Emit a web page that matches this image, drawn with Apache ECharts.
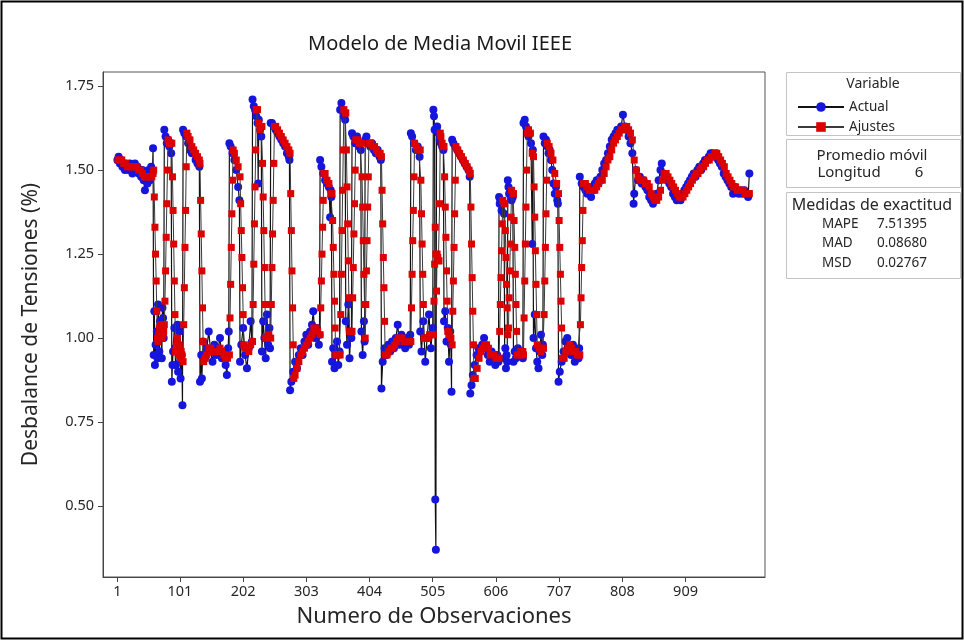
<!DOCTYPE html>
<html>
<head>
<meta charset="utf-8">
<script src="https://cdn.jsdelivr.net/npm/echarts@6/dist/echarts.min.js"></script>
<style>
  html, body { margin: 0; padding: 0; background: #fff; }
  #chart { width: 964px; height: 641px; }
</style>
</head>
<body>
<div id="chart"></div>
<script>
// Observation number and measured voltage unbalance (%)
const actual = [
  [1,1.53],[3,1.54],[5,1.52],[7,1.53],[9,1.51],[11,1.52],[13,1.50],[15,1.52],[17,1.51],[19,1.50],[21,1.52],[23,1.51],[25,1.49],[27,1.51],[29,1.52],[31,1.50],[33,1.51],[35,1.49],[37,1.50],[39,1.48],[41,1.50],[43,1.47],[45,1.44],[47,1.49],[49,1.46],[51,1.50],[53,1.47],[55,1.51],[57,1.49],[58,1.565],
  [59,0.95],[60,1.08],[61,0.92],[62,0.98],[64,1.02],[65,0.94],[66,1.10],[68,0.96],[69,1.05],[70,1.04],[72,0.94],[73,1.09],[74,1.06],[75,1.00],
  [76,1.62],[78,1.60],[80,1.58],[82,1.59],[84,1.57],[86,1.58],[87,1.55],
  [88,0.87],[89,0.92],[90,0.96],[92,1.03],[93,0.97],[94,0.92],[96,0.99],[97,1.04],[98,0.90],[100,1.02],[101,0.93],[102,0.88],[104,0.95],[105,0.80],
  [106,1.62],[108,1.61],[111,1.60],[114,1.58],[117,1.56],[120,1.55],[123,1.55],[126,1.53],[129,1.52],[132,1.51],
  [133,0.87],[135,0.95],[136,0.88],[138,0.99],[141,0.94],[144,0.97],[147,1.02],[150,0.96],[153,0.93],[156,0.98],[159,0.95],[162,0.97],[165,1.00],[168,0.94],[171,0.96],[174,0.92],[176,0.89],[178,0.97],[179,1.02],
  [180,1.58],[182,1.57],[185,1.55],[188,1.53],[191,1.50],[194,1.45],[196,1.41],
  [197,0.93],[199,0.98],[202,1.03],[205,0.95],[208,0.91],[211,0.97],[214,1.05],[216,0.99],
  [217,1.71],[219,1.69],[221,1.68],[223,1.66],[225,1.64],[226,1.46],[227,1.65],[229,1.62],[231,1.60],
  [232,0.96],[234,1.05],[236,1.00],[238,0.94],[240,1.07],[242,0.98],[244,1.03],[245,0.97],
  [246,1.64],[248,1.64],[251,1.63],[254,1.62],[257,1.61],[260,1.60],[263,1.59],[266,1.58],[269,1.57],[272,1.55],[275,1.54],[276,1.53],
  [277,0.845],[279,0.87],[282,0.90],[285,0.93],[288,0.91],[291,0.95],[294,0.97],[297,0.95],[300,0.99],[303,1.01],[306,0.98],[309,1.02],[312,1.04],[314,1.08],[317,1.00],[320,1.03],[323,0.98],[324,1.01],
  [325,1.53],[327,1.51],[330,1.49],[333,1.47],[336,1.46],[339,1.45],[341,1.36],[342,1.44],[343,1.42],
  [344,0.93],[346,0.97],[348,0.91],[350,0.95],[352,0.99],[354,0.92],[356,0.96],
  [357,1.68],[359,1.70],[361,1.68],[363,1.66],[365,1.65],
  [366,1.05],[368,0.98],[370,1.10],[372,0.94],[374,1.02],[375,1.00],
  [376,1.61],[378,1.60],[381,1.58],[384,1.60],[387,1.57],[390,1.56],
  [391,1.02],[393,0.95],[395,1.05],[396,0.99],
  [397,1.59],[399,1.60],[402,1.58],[405,1.57],[408,1.58],[411,1.56],[414,1.55],[417,1.56],[420,1.54],[422,1.53],
  [423,0.85],[425,0.93],[428,0.97],[431,0.95],[434,0.98],[437,0.96],[440,0.99],[443,0.97],[446,1.00],[449,1.04],[452,0.98],[455,1.01],[458,0.99],[461,0.97],[464,1.00],[467,0.98],[469,1.01],
  [470,1.61],[472,1.60],[475,1.58],[478,1.56],[481,1.57],[484,1.54],
  [485,1.02],[487,0.96],[490,1.05],[493,0.93],[496,1.00],[499,1.07],[502,0.97],[505,1.03],
  [506,1.68],[507,1.66],[508,1.62],[509,0.52],[510,0.37],[511,1.62],[512,1.63],[514,1.61],[516,1.59],[518,1.58],[520,1.57],[522,1.56],
  [523,1.05],[525,1.08],[527,0.99],[529,1.03],[531,0.93],[533,1.02],[534,0.98],[535,0.84],
  [536,1.59],[538,1.58],[541,1.57],[544,1.56],[547,1.55],[550,1.54],[553,1.53],[556,1.52],[559,1.51],[562,1.50],[564,1.48],
  [565,0.835],[567,0.86],[569,0.89],[572,0.92],[575,0.95],[578,0.97],[581,0.96],[584,0.98],[587,1.00],[590,0.97],[593,0.95],[596,0.93],[599,0.96],[602,0.94],[605,0.92],[608,0.95],[610,0.93],
  [611,1.42],[612,1.40],[613,1.41],[615,1.38],[617,1.40],[619,1.37],
  [620,0.94],[621,0.97],[622,0.91],[623,0.95],[624,0.93],
  [625,1.47],[626,1.45],[627,1.43],[629,1.44],[631,1.41],[633,1.42],
  [634,0.93],[636,0.96],[638,0.94],[641,0.97],[644,0.95],[647,0.96],[649,0.94],
  [650,1.64],[652,1.65],[654,1.63],[656,1.62],[658,1.60],[660,1.61],[662,1.58],[664,1.28],[665,1.56],
  [666,1.00],[668,1.07],[670,0.97],[672,0.93],[674,0.91],[676,0.96],[678,1.01],[680,0.95],[681,0.98],
  [682,1.60],[684,1.58],[686,1.59],[688,1.57],[690,1.55],[692,1.56],[694,1.53],[696,1.50],[698,1.46],[700,1.43],[702,1.45],[704,1.41],[705,1.40],
  [706,0.87],[708,0.90],[711,0.93],[714,0.96],[717,0.99],[720,1.00],[723,0.97],[726,0.95],[729,0.98],[732,0.93],[735,0.96],[738,0.94],[739,0.97],
  [740,1.48],[743,1.46],[746,1.45],[749,1.44],[752,1.43],[755,1.45],[758,1.42],[761,1.44],[764,1.46],[767,1.47],[770,1.46],[773,1.48],[776,1.50],[779,1.52],[782,1.53],[785,1.55],[788,1.57],[791,1.59],[794,1.60],[797,1.61],[800,1.62],[803,1.62],[806,1.63],[809,1.665],[812,1.63],[815,1.62],[818,1.60],[821,1.58],[824,1.55],[826,1.40],[827,1.43],[830,1.50],[833,1.47],[836,1.48],[839,1.46],[842,1.47],[845,1.45],[848,1.44],[851,1.42],[854,1.41],[857,1.40],[860,1.41],[863,1.43],[866,1.47],[869,1.50],[871,1.52],[874,1.49],[877,1.48],[880,1.47],[883,1.46],[886,1.45],[889,1.43],[892,1.42],[895,1.41],[898,1.42],[901,1.41],[904,1.43],[907,1.44],[910,1.45],[913,1.46],[916,1.47],[919,1.48],[922,1.49],[925,1.48],[928,1.50],[931,1.51],[934,1.50],[937,1.52],[940,1.53],[943,1.53],[946,1.54],[949,1.55],[952,1.55],[955,1.54],[958,1.55],[961,1.53],[964,1.52],[967,1.51],[970,1.49],[973,1.48],[976,1.47],[979,1.46],[982,1.45],[985,1.43],[988,1.45],[991,1.44],[994,1.43],[997,1.44],[1000,1.43],[1003,1.44],[1006,1.43],[1009,1.42],[1011,1.49]
];

// Fitted values of the length-6 moving average
const fits = [
  [2,1.53],[5,1.53],[8,1.53],[11,1.52],[14,1.52],[17,1.51],[20,1.51],[23,1.51],[26,1.51],[29,1.51],[32,1.51],[35,1.50],[38,1.50],[41,1.49],[44,1.48],[47,1.48],[50,1.48],[53,1.48],[56,1.48],[58,1.49],[59,1.50],
  [60,1.42],[61,1.33],[62,1.25],[63,1.17],[64,1.08],[65,1.00],[66,0.99],[67,1.01],[68,1.03],[69,1.02],[70,1.04],[71,1.01],[72,1.00],[73,1.03],[74,1.01],[75,1.02],[76,1.04],
  [77,1.11],[78,1.20],[79,1.30],[80,1.40],[81,1.50],[82,1.59],[84,1.58],[86,1.58],[88,1.58],
  [89,1.48],[90,1.38],[91,1.28],[92,1.17],[93,1.07],[94,0.96],[95,0.98],[96,0.96],[97,1.00],[98,0.97],[99,0.95],[100,0.98],[101,0.96],[102,0.94],[103,0.96],[104,0.95],[106,0.93],
  [107,1.04],[108,1.15],[109,1.27],[110,1.38],[111,1.51],[112,1.61],[114,1.60],[117,1.59],[120,1.57],[123,1.56],[126,1.55],[129,1.54],[132,1.53],[133,1.52],
  [134,1.41],[135,1.31],[136,1.20],[137,1.09],[138,0.99],[139,0.93],[141,0.94],[144,0.95],[147,0.97],[150,0.97],[153,0.96],[156,0.96],[159,0.96],[162,0.96],[165,0.97],[168,0.96],[171,0.95],[174,0.94],[177,0.94],[180,0.95],
  [181,1.06],[182,1.16],[183,1.27],[184,1.37],[185,1.47],[186,1.56],[188,1.55],[191,1.53],[194,1.51],[197,1.48],
  [198,1.40],[199,1.32],[200,1.24],[201,1.15],[202,1.07],[203,0.98],[205,0.97],[208,0.97],[211,0.96],[214,0.98],[217,0.99],
  [218,1.10],[219,1.22],[220,1.34],[221,1.45],[222,1.56],[223,1.68],[225,1.68],[227,1.64],[229,1.62],[231,1.63],[232,1.63],
  [233,1.52],[234,1.42],[235,1.32],[236,1.21],[237,1.10],[238,1.00],[240,1.00],[243,1.01],[246,1.00],
  [247,1.10],[248,1.21],[249,1.31],[250,1.41],[251,1.52],[252,1.63],[254,1.63],[257,1.62],[260,1.61],[263,1.60],[266,1.59],[269,1.58],[272,1.57],[275,1.56],[277,1.55],
  [278,1.43],[279,1.32],[280,1.20],[281,1.09],[282,0.98],[283,0.88],[285,0.89],[288,0.91],[291,0.93],[294,0.95],[297,0.96],[300,0.97],[303,0.98],[306,0.99],[309,1.00],[312,1.01],[315,1.03],[318,1.03],[321,1.02],[325,1.01],
  [326,1.09],[327,1.17],[328,1.25],[329,1.33],[330,1.41],[331,1.49],[333,1.49],[336,1.47],[339,1.46],[342,1.43],[344,1.43],
  [345,1.35],[346,1.27],[347,1.19],[348,1.11],[349,1.03],[350,0.95],[352,0.95],[355,0.95],[357,0.95],
  [358,1.07],[359,1.19],[360,1.32],[361,1.44],[362,1.56],[363,1.68],[365,1.67],[366,1.67],
  [367,1.56],[368,1.45],[369,1.34],[370,1.23],[371,1.12],[372,1.02],[374,1.02],[376,1.02],
  [377,1.12],[378,1.21],[379,1.31],[380,1.40],[381,1.50],[382,1.59],[385,1.59],[388,1.58],[391,1.58],
  [392,1.48],[393,1.39],[394,1.29],[395,1.19],[396,1.10],[397,1.00],
  [398,1.10],[399,1.20],[400,1.29],[401,1.39],[402,1.48],[403,1.58],[406,1.58],[409,1.57],[412,1.57],[415,1.56],[418,1.55],[421,1.55],[423,1.54],
  [424,1.44],[425,1.34],[426,1.24],[427,1.15],[428,1.05],[429,0.95],[432,0.95],[435,0.96],[438,0.97],[441,0.97],[444,0.98],[447,0.99],[450,1.00],[453,1.00],[456,1.00],[459,0.99],[462,0.99],[465,0.99],[468,0.99],[470,0.99],
  [471,1.09],[472,1.19],[473,1.29],[474,1.38],[475,1.48],[476,1.58],[479,1.57],[482,1.56],[485,1.56],
  [486,1.47],[487,1.37],[488,1.28],[489,1.19],[490,1.10],[491,1.00],[494,1.00],[497,1.00],[500,1.01],[503,1.01],[506,1.01],
  [507,1.11],[508,1.22],[509,1.33],[510,1.25],[511,1.14],[512,1.25],[513,1.24],[514,1.23],[515,1.23],[516,1.40],[517,1.61],[518,1.60],[520,1.58],[522,1.57],[523,1.57],
  [524,1.48],[525,1.39],[526,1.30],[527,1.20],[528,1.11],[529,1.02],[531,1.01],[534,1.00],[536,0.98],
  [537,1.08],[538,1.17],[539,1.27],[540,1.37],[541,1.47],[542,1.57],[545,1.56],[548,1.55],[551,1.54],[554,1.53],[557,1.52],[560,1.51],[563,1.50],[565,1.49],
  [566,1.39],[567,1.28],[568,1.18],[569,1.08],[570,0.98],[571,0.88],[573,0.88],[576,0.91],[579,0.94],[582,0.96],[585,0.97],[588,0.98],[591,0.98],[594,0.97],[597,0.95],[600,0.95],[603,0.95],[606,0.94],[609,0.94],[611,0.94],
  [612,1.02],[613,1.10],[614,1.18],[615,1.26],[616,1.34],[617,1.41],[619,1.40],[620,1.40],
  [621,1.32],[622,1.24],[623,1.16],[624,1.09],[625,1.01],[626,1.03],[627,1.12],[628,1.20],[629,1.28],[630,1.36],[631,1.44],[633,1.43],[634,1.43],
  [635,1.35],[636,1.27],[637,1.19],[638,1.10],[639,1.02],[640,0.95],[643,0.95],[646,0.96],[649,0.96],[650,0.95],
  [651,1.06],[652,1.17],[653,1.28],[654,1.39],[655,1.50],[656,1.61],[658,1.62],[661,1.61],[664,1.55],[666,1.54],
  [667,1.45],[668,1.36],[669,1.26],[670,1.16],[671,1.07],[672,0.98],[675,0.97],[678,0.96],[681,0.97],[682,0.97],
  [683,1.07],[684,1.17],[685,1.27],[686,1.37],[687,1.47],[688,1.58],[691,1.57],[694,1.55],[697,1.53],[700,1.49],[703,1.46],[706,1.43],
  [707,1.35],[708,1.27],[709,1.19],[710,1.11],[711,1.03],[712,0.94],[715,0.94],[718,0.96],[721,0.97],[724,0.98],[727,0.97],[730,0.96],[733,0.96],[736,0.95],[739,0.95],[740,0.95],
  [741,1.04],[742,1.12],[743,1.21],[744,1.29],[745,1.38],[746,1.46],[749,1.46],[752,1.45],[755,1.44],[758,1.44],[761,1.44],[764,1.44],[767,1.45],[770,1.46],[773,1.47],[776,1.47],[779,1.49],[782,1.51],[785,1.53],[788,1.54],[791,1.56],[794,1.58],[797,1.59],[800,1.60],[803,1.61],[806,1.62],[809,1.62],[812,1.63],[815,1.63],[818,1.62],[821,1.61],[824,1.59],[827,1.53],[830,1.50],[833,1.48],[836,1.47],[839,1.47],[842,1.47],[845,1.46],[848,1.46],[851,1.45],[854,1.43],[857,1.42],[860,1.41],[863,1.41],[866,1.42],[869,1.44],[872,1.47],[875,1.49],[878,1.49],[881,1.48],[884,1.47],[887,1.46],[890,1.45],[893,1.44],[896,1.43],[899,1.42],[902,1.42],[905,1.42],[908,1.43],[911,1.44],[914,1.45],[917,1.46],[920,1.47],[923,1.48],[926,1.49],[929,1.49],[932,1.50],[935,1.51],[938,1.51],[941,1.52],[944,1.53],[947,1.53],[950,1.54],[953,1.54],[956,1.55],[959,1.55],[962,1.54],[965,1.53],[968,1.52],[971,1.51],[974,1.49],[977,1.48],[980,1.47],[983,1.46],[986,1.45],[989,1.45],[992,1.44],[995,1.44],[998,1.44],[1001,1.44],[1004,1.43],[1007,1.43],[1010,1.43],[1011,1.43]
];

const xTicks = [1, 101, 202, 303, 404, 505, 606, 707, 808, 909];
const yTicks = [0.50, 0.75, 1.00, 1.25, 1.50, 1.75];
const seriesNames = ['Actual', 'Ajustes'];
const maLength = 6;
const accuracy = [['MAPE', '7.51395'], ['MAD', '0.08680'], ['MSD', '0.02767']];

const FONT = "'Noto Sans', 'Open Sans', sans-serif";
const TXT = '#262626';
const chart = echarts.init(document.getElementById('chart'), null, { renderer: 'canvas' });

function txt(x, y, text, size, align) {
  return {
    type: 'text', silent: true, z: 10,
    style: {
      x: x, y: y, text: text, fill: TXT,
      font: size + 'px ' + FONT,
      align: align || 'center', verticalAlign: 'middle',
      textAlign: align || 'center', textVerticalAlign: 'middle'
    }
  };
}
function box(x, y, w, h) {
  return {
    type: 'rect', silent: true, z: 1,
    shape: { x: x + 0.5, y: y + 0.5, width: w, height: h },
    style: { fill: 'none', stroke: '#c4c4c4', lineWidth: 1 }
  };
}

const graphics = [
  { type: 'rect', silent: true, z: 0, shape: { x: 1.5, y: 1.5, width: 961, height: 637 }, style: { fill: 'none', stroke: '#000', lineWidth: 2 } },
  box(786, 72, 174, 63),
  box(786, 139, 174, 48),
  box(786, 192, 174, 86),
  txt(873, 84, 'Variable', 14),
  txt(872, 156, 'Promedio móvil', 15),
  txt(849, 173, 'Longitud', 15),
  txt(919, 173, String(maLength), 15),
  txt(872, 205, 'Medidas de exactitud', 16)
];
accuracy.forEach((row, i) => {
  graphics.push(txt(822, 224 + i * 19.5, row[0], 13.5, 'left'));
  graphics.push(txt(877, 224 + i * 19.5, row[1], 13.5, 'left'));
});

chart.setOption({
  animation: false,
  backgroundColor: '#fff',
  title: {
    text: 'Modelo de Media Movil IEEE',
    left: 435, top: 29, textAlign: 'center',
    textStyle: { fontFamily: FONT, fontSize: 20, fontWeight: 'normal', color: '#1a1a1a' }
  },
  grid: { left: 103, right: 199, top: 72, bottom: 64, show: true, borderColor: '#555', borderWidth: 1, backgroundColor: '#fff' },
  legend: {
    data: seriesNames, orient: 'vertical', left: 792, top: 95, z: 10,
    itemWidth: 46, itemHeight: 12, itemGap: 6, selectedMode: false,
    textStyle: { fontFamily: FONT, fontSize: 13.5, color: TXT }
  },
  xAxis: {
    type: 'value', min: -22, max: 1036,
    name: 'Numero de Observaciones', nameLocation: 'middle', nameGap: 29,
    nameTextStyle: { fontFamily: FONT, fontSize: 22, color: TXT },
    axisLine: { show: true, onZero: false, lineStyle: { color: '#444', width: 1 } },
    axisTick: { show: true, inside: false, length: 5, customValues: xTicks, lineStyle: { color: '#444' } },
    axisLabel: { customValues: xTicks, margin: 7, fontFamily: FONT, fontSize: 14.5, color: TXT, formatter: v => String(v) },
    splitLine: { show: false }
  },
  yAxis: {
    type: 'value', min: 0.289, max: 1.792,
    name: 'Desbalance de Tensiones (%)', nameLocation: 'middle', nameGap: 61, nameRotate: 90,
    nameTextStyle: { fontFamily: FONT, fontSize: 21, color: TXT },
    axisLine: { show: true, onZero: false, lineStyle: { color: '#444', width: 1 } },
    axisTick: { show: true, inside: false, length: 5, customValues: yTicks, lineStyle: { color: '#444' } },
    axisLabel: { customValues: yTicks, margin: 9, fontFamily: FONT, fontSize: 14.5, color: TXT, formatter: v => v.toFixed(2) },
    splitLine: { show: false }
  },
  series: [
    {
      name: seriesNames[0], type: 'line', data: actual,
      symbol: 'circle', symbolSize: 8, showAllSymbol: true,
      lineStyle: { color: '#111', width: 1.2 },
      itemStyle: { color: '#1515dc', borderWidth: 0 },
      z: 2
    },
    {
      name: seriesNames[1], type: 'line', data: fits,
      symbol: 'rect', symbolSize: 7, showAllSymbol: true,
      lineStyle: { color: '#3a3a3a', width: 1 },
      itemStyle: { color: '#dc0000', borderWidth: 0 },
      z: 3
    }
  ],
  graphic: graphics
});
</script>
</body>
</html>
